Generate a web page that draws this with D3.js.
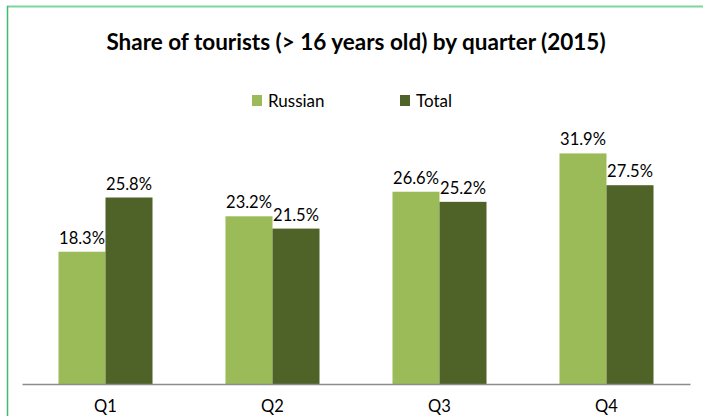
<!DOCTYPE html>
<html><head><meta charset="utf-8">
<script src="https://cdn.jsdelivr.net/npm/d3@7"></script>
<style>body{margin:0;background:#fff}svg{display:block}</style>
</head><body>
<svg id="c" width="703" height="416"></svg>
<script>
const categories = ["Q1","Q2","Q3","Q4"];
const seriesNames = ["Russian","Total"];
const russian = [18.3, 23.2, 26.6, 31.9];
const total = [25.8, 21.5, 25.2, 27.5];
const colors = ["#9BBB59","#4F6228"];
const title = "Share of tourists (> 16 years old) by quarter (2015)";

const font = "Lato, 'Open Sans', sans-serif";
const svg = d3.select("#c");
const W = 703, H = 416;
const left = 22, right = 690, base = 384;

// frame
svg.append("line").attr("x1",7).attr("x2",W).attr("y1",6.5).attr("y2",6.5).attr("stroke","#7dd6a0").attr("stroke-width",2);
svg.append("line").attr("x1",7.5).attr("x2",7.5).attr("y1",6).attr("y2",H).attr("stroke","#3dbb6e").attr("stroke-width",1.5);

svg.append("text").attr("x",356).attr("y",50).attr("text-anchor","middle")
  .attr("font-family",font).attr("font-weight","bold").attr("font-size",22.5).attr("fill","#000").text(title);

const x = d3.scaleBand().domain(categories).range([left,right]).paddingInner(0.437).paddingOuter(0.2185);
const x1 = d3.scaleBand().domain(seriesNames).range([0,x.bandwidth()]);
const y = d3.scaleLinear().domain([0,35]).range([base,131]);

const data = [russian,total];
const g = svg.append("g");
seriesNames.forEach((s,si)=>{
  categories.forEach((c,ci)=>{
    const v = data[si][ci];
    g.append("rect").attr("x",x(c)+x1(s)).attr("y",y(v)).attr("width",x1.bandwidth()).attr("height",base-y(v)).attr("fill",colors[si]);
    g.append("text").attr("x",x(c)+x1(s)+x1.bandwidth()/2).attr("y",y(v)-8)
      .attr("text-anchor","middle").attr("font-family",font).attr("font-size",16.5).attr("fill","#000")
      .text(v.toFixed(1)+"%");
  });
});

// axis
const ax = svg.append("g").attr("transform",`translate(0,${base})`)
  .call(d3.axisBottom(x).tickSize(0).tickSizeOuter(0));
ax.select(".domain").attr("stroke","#8c8c8c").attr("stroke-width",1.5);
ax.selectAll(".tick text").attr("y",28).attr("dy",0).attr("font-family",font).attr("font-size",16.5).attr("fill","#000");

// legend
const legX = [252,400];
seriesNames.forEach((s,i)=>{
  svg.append("rect").attr("x",legX[i]).attr("y",95).attr("width",10).attr("height",11).attr("fill",colors[i]);
  svg.append("text").attr("x",legX[i]+16).attr("y",107).attr("font-family",font).attr("font-size",17).attr("fill","#000").text(s);
});
</script>
</body></html>
